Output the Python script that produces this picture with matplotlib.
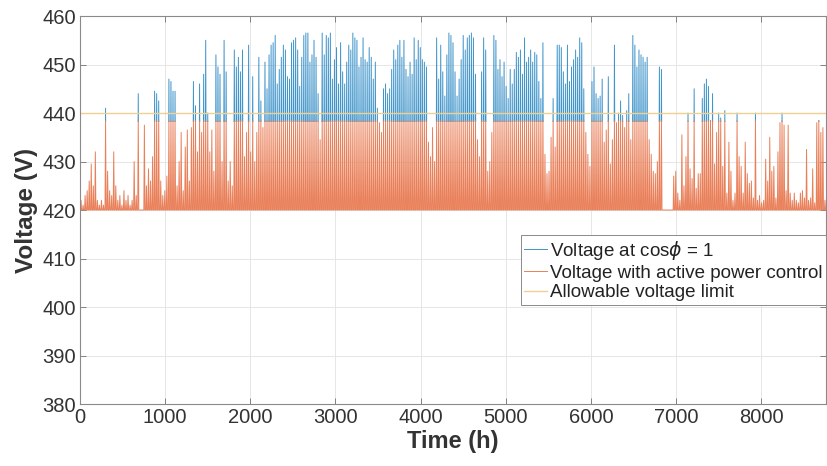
import numpy as np
from matplotlib import pyplot as plt
from matplotlib import patches

plt.rcParams['font.family'] = ['Liberation Sans', 'DejaVu Sans']

# daily peak voltage at cos(phi)=1, one value per day of the year (V)
peak_v = [
    422, 421, 423, 424, 426, 429.5, 425, 432, 422, 421,
    422, 421, 441, 428, 424, 423, 432, 425, 422, 423,
    421, 424, 422, 423, 421, 422, 430, 423, 444, 420,
    420, 437.5, 425, 428.5, 426, 431, 444.5, 444, 442.5, 426,
    423, 424, 427, 447, 446.5, 444.5, 444.5, 425, 430, 436,
    424, 433, 436.5, 426, 437, 446.5, 441.5, 432, 446, 436,
    448, 455, 440, 432, 436.5, 428, 452, 449.5, 448, 430,
    455, 448.5, 426, 430, 425, 453, 449.5, 451.5, 448.5, 453,
    431, 436, 454, 432, 447.5, 430, 436, 451.5, 442.5, 437,
    450.5, 445, 452, 454, 454.5, 456, 446, 449, 451.5, 454,
    453, 447.5, 447, 454.5, 455, 455.5, 453, 445.5, 451.5, 456,
    456.5, 456.5, 450.5, 452, 455, 451.5, 444, 434.5, 456.5, 452,
    456, 455.5, 456.5, 447, 451, 453.5, 446, 454.5, 448.5, 446,
    450.5, 454, 453, 456.5, 455.5, 455, 449.5, 451.5, 455.5, 451,
    450.5, 453.5, 451.5, 447, 450.5, 441, 438, 436, 445, 446,
    444, 445, 449, 453, 451, 454, 455, 451.5, 455, 449,
    447.5, 450.5, 448, 455.5, 451, 455, 453.5, 451, 450.5, 449.5,
    434, 431, 437, 430, 455.5, 447, 454, 448.5, 443.5, 452,
    456.5, 456, 454.5, 448.5, 443.5, 447, 451, 456, 453, 455.5,
    456, 456.5, 455.5, 448, 434.5, 431, 448.5, 455.5, 453, 428,
    430, 436, 456, 455, 449, 451, 447.5, 450.5, 445.5, 443,
    449, 446, 449, 452.5, 451.5, 453, 448, 455.5, 450.5, 451.5,
    453, 450.5, 452.5, 452, 446.5, 443, 454.5, 431.5, 427.5, 428,
    435, 443, 433, 454, 454, 453.5, 448.5, 446, 454, 446.5,
    449.5, 451, 453, 451.5, 455.5, 454.5, 445, 436, 431.5, 429,
    446.5, 449.5, 444, 443, 443.5, 447, 434, 436.5, 447.5, 429.5,
    434.5, 454, 438, 440, 442.5, 439.5, 437, 440.5, 444, 434.5,
    456, 454, 449.5, 453, 452, 451.5, 450.5, 451.5, 434.5, 431.5,
    428, 427.5, 430, 449.5, 449, 420, 420, 420, 420, 420,
    427, 428, 423.5, 422, 435.5, 425, 431, 440, 428.5, 426.5,
    445, 424.5, 427.5, 427.5, 443, 446, 447, 445.5, 438.5, 444,
    429.5, 436, 440, 439, 429, 440.5, 423.5, 434, 428, 422,
    423.5, 440, 431, 429, 423.5, 434, 427.5, 425.5, 426, 422.5,
    440, 422, 423, 421.5, 422, 430.5, 426, 435, 428, 429,
    422.5, 432, 438, 440, 437.5, 424, 437.5, 423.5, 422, 423.5,
    422, 421.5, 423.5, 424, 422.5, 432.5, 422, 422.5, 428.5, 421.5,
    438, 438.5, 436, 437, 422,
]
night_v = 420.0      # voltage with no PV infeed
apc_cap = 438.4      # level the active power control holds
v_limit = 440.0      # allowable voltage limit
hours_total = 8760

peak_v = np.array(peak_v)
days = np.arange(len(peak_v))

# each day: flat at night, rise to the midday peak, back down
xh = np.column_stack([days*24 + 6, days*24 + 12.5, days*24 + 19]).ravel()
base = np.full(len(days), night_v)
v_pf1 = np.column_stack([base, peak_v, base]).ravel()
v_apc = np.column_stack([base, np.minimum(peak_v, apc_cap), base]).ravel()
xh = np.r_[0, xh, hours_total]
v_pf1 = np.r_[night_v, v_pf1, night_v]
v_apc = np.r_[night_v, v_apc, night_v]

fig = plt.figure(figsize=(8.27, 4.66), dpi=100)
ax = fig.add_axes([0.0967, 0.133, 0.902, 0.8326])

l1, = ax.plot(xh, v_pf1, color='#3F94CA', lw=0.7, label=r'Voltage at cos$\phi$ = 1')
# blue is hidden under orange below the cap anyway; clip so edges don't mix
clip = patches.Rectangle((0, apc_cap - 0.3), hours_total, 30, transform=ax.transData)
l1.set_clip_path(clip)
ax.plot(xh, v_apc, color='#E9805A', lw=0.7, label='Voltage with active power control')
ax.plot([0, hours_total], [v_limit, v_limit], color='#F0CF92', lw=1.0,
        label='Allowable voltage limit')

ax.set_xlim(0, hours_total)
ax.set_ylim(380, 460)
ax.set_xticks(np.arange(0, 9000, 1000))
ax.set_yticks(np.arange(380, 461, 10))
ax.grid(True, color='#e6e6e6', lw=0.7)
ax.set_axisbelow(True)
ax.tick_params(direction='in', top=True, right=True, length=4, width=0.7,
               labelsize=14.5, colors='#808080', labelcolor='#333333', pad=3)
for s in ax.spines.values():
    s.set_color('#8a8a8a')
    s.set_linewidth(0.8)

ax.set_xlabel('Time (h)', fontsize=17, fontweight='bold', color='#333333', labelpad=2)
ax.set_ylabel('Voltage (V)', fontsize=17.5, fontweight='bold', color='#333333', labelpad=3)

leg = ax.legend(loc='upper right', bbox_to_anchor=(1.0, 0.436), fontsize=13.5,
                handlelength=1.2, handletextpad=0.15, borderpad=0.2, labelspacing=0.15,
                fancybox=False, framealpha=1, edgecolor='#8a8a8a', borderaxespad=0)
leg.get_frame().set_linewidth(0.7)
for t in leg.get_texts():
    t.set_color('#222222')

fig.savefig('out.png', dpi=100)
